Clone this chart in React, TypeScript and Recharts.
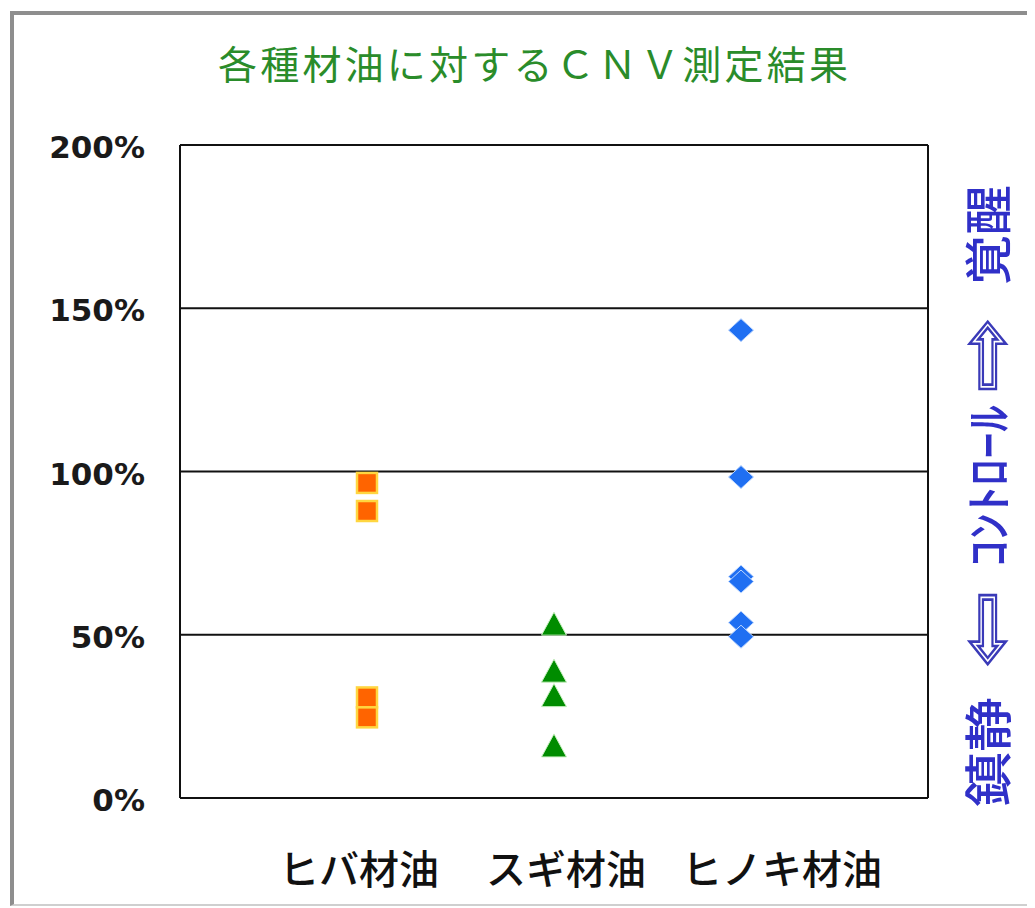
import React from 'react';
import { ScatterChart, Scatter, XAxis, YAxis, CartesianGrid } from 'recharts';

const categories = ['ヒバ材油', 'スギ材油', 'ヒノキ材油'];
const categoryX = [1, 2, 3];
const hibaValues = [96.5, 87.9, 30.8, 24.7];
const sugiValues = [53.4, 39.0, 31.5, 16.1];
const hinokiValues = [143.3, 98.3, 67.8, 66.3, 53.7, 49.4];
const yTicks = [0, 50, 100, 150, 200];
const titleText = '各種材油に対するＣＮＶ測定結果';
const sideLabels = ['鎮静', '⇦', 'ｺﾝﾄﾛｰﾙ', '⇨', '覚醒'];

const hibaData = hibaValues.map((v) => ({ x: categoryX[0], y: v }));
const sugiData = sugiValues.map((v) => ({ x: categoryX[1], y: v }));
const hinokiData = hinokiValues.map((v) => ({ x: categoryX[2], y: v }));

const LABEL_DX = [-8, 12, 41];

const XTick = (props: any) => {
  const { x, y, payload } = props;
  const i = categoryX.indexOf(payload.value);
  if (i < 0) return null;
  return (
    <text
      x={x + LABEL_DX[i]}
      y={y + 69}
      textAnchor="middle"
      dominantBaseline="central"
      fontFamily="'Noto Sans CJK JP', sans-serif"
      fontSize={40}
      fontWeight={500}
      fill="#111"
    >
      {categories[i]}
    </text>
  );
};

const YTick = (props: any) => {
  const { x, y, payload } = props;
  return (
    <text
      x={x}
      y={y + 2}
      textAnchor="end"
      dominantBaseline="central"
      fontFamily="'DejaVu Sans', sans-serif"
      fontWeight="bold"
      fontSize={31}
      fill="#1a1a1a"
    >
      {`${payload.value}%`}
    </text>
  );
};

const SquareShape = (props: any) => {
  const { cx, cy } = props;
  return <rect x={cx - 10} y={cy - 10} width={20} height={20} fill="#ff6400" stroke="#ffd640" strokeWidth={2.5} />;
};

const TriangleShape = (props: any) => {
  const { cx, cy } = props;
  const w = 25;
  const h = 23;
  return (
    <polygon
      points={`${cx},${cy - h / 2} ${cx + w / 2},${cy + h / 2} ${cx - w / 2},${cy + h / 2}`}
      fill="#008c00"
      stroke="#c8f0c0"
      strokeWidth={1}
    />
  );
};

const DiamondShape = (props: any) => {
  const { cx, cy } = props;
  const w = 25;
  const h = 23;
  return (
    <polygon
      points={`${cx},${cy - h / 2} ${cx + w / 2},${cy} ${cx},${cy + h / 2} ${cx - w / 2},${cy}`}
      fill="#1f6ff2"
      stroke="#bcd6ff"
      strokeWidth={1}
    />
  );
};

const CHART_W = 1027;
const CHART_H = 900;

export default function App() {
  const sideCx = 977;
  const sideCy = 488;
  const segs = [
    { t: sideLabels[0], x0: -311, len: 110, arrow: false },
    { t: sideLabels[1], x0: -171, len: 77, arrow: true },
    { t: sideLabels[2], x0: -71, len: 162, arrow: false },
    { t: sideLabels[3], x0: 104, len: 75, arrow: true },
    { t: sideLabels[4], x0: 211, len: 100, arrow: false },
  ];
  return (
    <div style={{ position: 'relative', width: CHART_W, height: CHART_H, background: '#fff' }}>
      <ScatterChart
        width={CHART_W}
        height={CHART_H}
        margin={{ top: 137, right: 107, bottom: 30, left: 72 }}
      >
        <CartesianGrid
          stroke="#111"
          strokeWidth={2}
          fill="none"
          verticalCoordinatesGenerator={(p: any) => [p.offset.left, p.offset.left + p.offset.width]}
        />
        <XAxis
          type="number"
          dataKey="x"
          domain={[0, 4]}
          ticks={categoryX}
          tick={<XTick />}
          tickLine={false}
          tickSize={0}
          tickMargin={0}
          axisLine={{ stroke: '#111', strokeWidth: 2 }}
          height={80}
          allowDataOverflow
        />
        <YAxis
          type="number"
          dataKey="y"
          domain={[0, 200]}
          ticks={yTicks}
          tick={<YTick />}
          tickLine={false}
          tickSize={0}
          tickMargin={35}
          axisLine={{ stroke: '#111', strokeWidth: 2 }}
          width={100}
          allowDataOverflow
        />
        <Scatter data={hibaData} shape={<SquareShape />} isAnimationActive={false} />
        <Scatter data={sugiData} shape={<TriangleShape />} isAnimationActive={false} />
        <Scatter data={hinokiData} shape={<DiamondShape />} isAnimationActive={false} />
      </ScatterChart>
      <svg
        width={CHART_W}
        height={CHART_H}
        style={{ position: 'absolute', left: 0, top: 0, pointerEvents: 'none' }}
      >
        <text
          x={525}
          y={54}
          textAnchor="middle"
          dominantBaseline="central"
          fontFamily="'Noto Sans CJK JP', sans-serif"
          fontSize={39}
          fill="#2a8c2a"
          textLength={630}
          lengthAdjust="spacing"
        >
          {titleText}
        </text>
        <g transform={`translate(${sideCx},${sideCy}) rotate(-90)`}>
          {segs.map((s, i) => (
            <text
              key={i}
              x={s.x0}
              y={0}
              dominantBaseline="central"
              fontFamily={s.arrow ? "'DejaVu Sans', sans-serif" : "'Noto Sans CJK JP', sans-serif"}
              fontSize={s.arrow ? 74 : 48}
              fontWeight={s.arrow ? 'normal' : 500}
              fill={s.arrow ? 'none' : '#3030c8'}
              stroke={s.arrow ? '#3a3ab8' : 'none'}
              strokeWidth={s.arrow ? 2.2 : 0}
              textLength={s.len}
              lengthAdjust="spacingAndGlyphs"
            >
              {s.t}
            </text>
          ))}
        </g>
      </svg>
      <div
        style={{
          position: 'absolute',
          left: 2,
          top: 3,
          width: 1023,
          height: 895,
          boxSizing: 'border-box',
          borderLeft: '4px solid #8e8e8e',
          borderTop: '4px solid #8e8e8e',
          borderRight: '2px solid #cfcfcf',
          borderBottom: '2px solid #cfcfcf',
          pointerEvents: 'none',
        }}
      />
    </div>
  );
}
